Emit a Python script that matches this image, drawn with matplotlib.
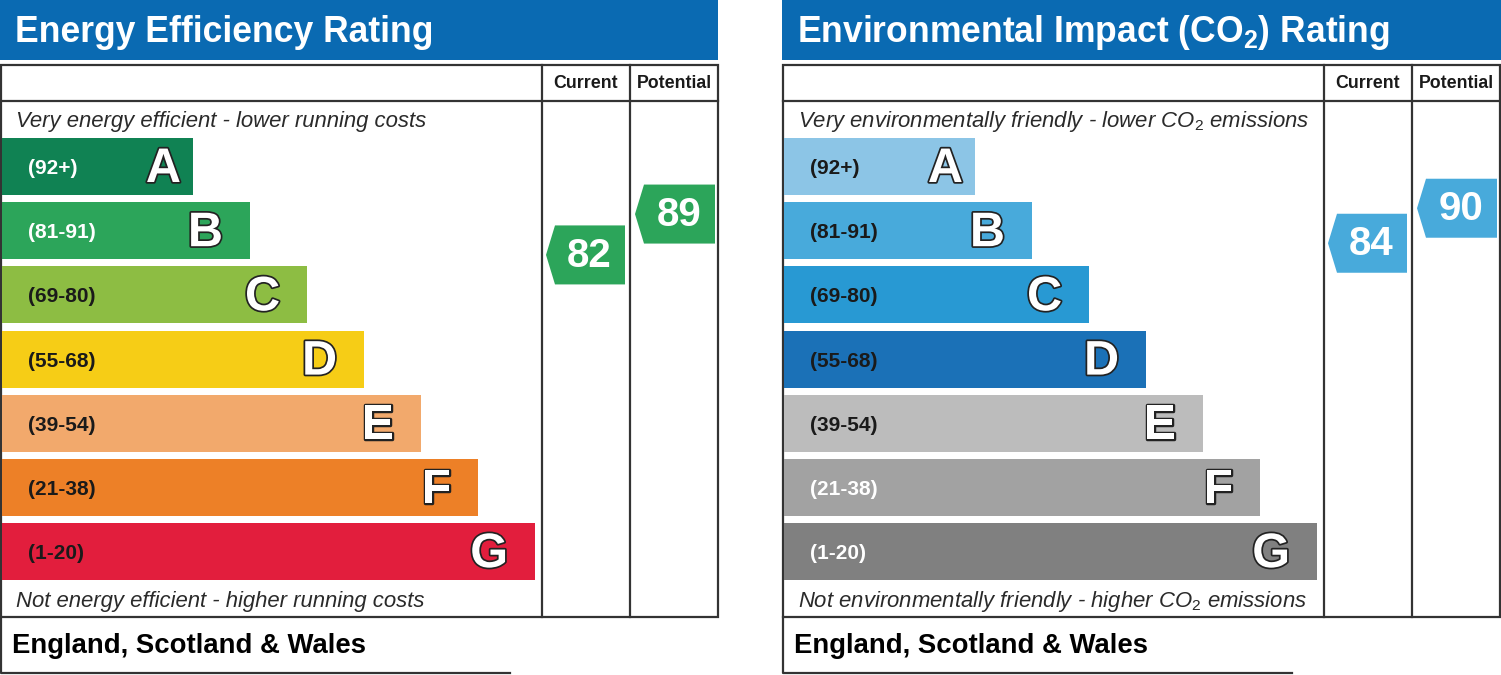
import matplotlib
matplotlib.use("Agg")
import matplotlib.pyplot as plt
from matplotlib.patches import Rectangle, Polygon
import matplotlib.patheffects as pe

plt.rcParams['font.family'] = ['Liberation Sans', 'DejaVu Sans']
plt.rcParams['mathtext.fontset'] = 'custom'
plt.rcParams['mathtext.rm'] = 'Liberation Sans'
plt.rcParams['mathtext.it'] = 'Liberation Sans:italic'
plt.rcParams['mathtext.bf'] = 'Liberation Sans:bold'

# данные рейтингов
bands = ['A', 'B', 'C', 'D', 'E', 'F', 'G']
band_ranges = ['(92+)', '(81-91)', '(69-80)', '(55-68)', '(39-54)', '(21-38)', '(1-20)']
band_lo = [92, 81, 69, 55, 39, 21, 1]
band_hi = [100, 91, 80, 68, 54, 38, 20]

ee_colors = ['#108253', '#2ca55a', '#8dbd43', '#f6cd16', '#f2a96c', '#ed8027', '#e21e3d']
ee_label_colors = ['white', 'white', '#1a1a1a', '#1a1a1a', '#1a1a1a', '#1a1a1a', '#1a1a1a']
ei_colors = ['#8cc5e6', '#48aadb', '#2899d3', '#1b71b7', '#bcbcbc', '#a2a2a2', '#808080']
ei_label_colors = ['#1a1a1a', '#1a1a1a', '#1a1a1a', '#1a1a1a', '#1a1a1a', 'white', 'white']

ee_current, ee_potential = 82, 89
ei_current, ei_potential = 84, 90

ee_title = 'Energy Efficiency Rating'
ei_title = r'Environmental Impact (CO$_\mathbf{2}$) Rating'
ee_top = 'Very energy efficient - lower running costs'
ee_bottom = 'Not energy efficient - higher running costs'
ei_top = r'Very environmentally friendly - lower CO$_\mathit{2}$ emissions'
ei_bottom = r'Not environmentally friendly - higher CO$_\mathit{2}$ emissions'
region = 'England, Scotland & Wales'

fig = plt.figure(figsize=(15.01, 6.75), dpi=100)
ax = fig.add_axes([0, 0, 1, 1])
ax.set_xlim(0, 1501)
ax.set_ylim(675, 0)
ax.axis('off')

line_col = '#333333'
bar_top0 = 138
pitch = 64.2
bar_h = 57


def band_of(v):
    for i in range(len(bands)):
        if band_lo[i] <= v <= band_hi[i]:
            return i
    return len(bands) - 1


def value_y(v):
    # положение стрелки внутри полосы по значению
    i = band_of(v)
    row_bottom = bar_top0 + i * pitch + bar_h + (pitch - bar_h) / 2
    step = pitch / (band_hi[i] - band_lo[i] + 1)
    return row_bottom - (v - band_lo[i] + 0.35) * step


def arrow(x_tip, x_right, v, colors):
    yc = value_y(v)
    h = 59
    pts = [(x_tip, yc), (x_tip + 9, yc - h / 2), (x_right, yc - h / 2),
           (x_right, yc + h / 2), (x_tip + 9, yc + h / 2)]
    ax.add_patch(Polygon(pts, closed=True, facecolor=colors[band_of(v)], edgecolor='none'))
    ax.text((x_tip + x_right) / 2 + 4, yc + 1, str(v), color='white', fontsize=29,
            fontweight='bold', ha='center', va='center')


def panel(x0, width, title, top_txt, bottom_txt, colors, label_colors, cur, pot):
    ax.add_patch(Rectangle((x0, 0), width, 60, facecolor='#0a6ab2', edgecolor='none'))
    ax.text(x0 + 15, 32, title, color='white', fontsize=25.6, fontweight='bold',
            ha='left', va='center')
    # рамка таблицы
    ax.add_patch(Rectangle((x0 + 1, 65), 717, 552, facecolor='none', edgecolor=line_col, lw=1.6))
    ax.plot([x0 + 1, x0 + 718], [101, 101], color=line_col, lw=1.6)
    ax.plot([x0 + 542, x0 + 542], [65, 617], color=line_col, lw=1.6)
    ax.plot([x0 + 630, x0 + 630], [65, 617], color=line_col, lw=1.6)
    ax.plot([x0 + 1, x0 + 1, x0 + 510], [617, 673, 673], color=line_col, lw=1.6)
    ax.text(x0 + 586, 84, 'Current', fontsize=12.8, fontweight='bold', color='#1a1a1a',
            ha='center', va='center')
    ax.text(x0 + 674, 84, 'Potential', fontsize=12.8, fontweight='bold', color='#1a1a1a',
            ha='center', va='center')
    ax.text(x0 + 16, 121, top_txt, fontsize=15.9, style='italic', color='#2a2a2a',
            ha='left', va='center')
    ax.text(x0 + 16, 601, bottom_txt, fontsize=15.9, style='italic', color='#2a2a2a',
            ha='left', va='center')
    for i in range(len(bands)):
        y = bar_top0 + i * pitch
        w = 191 + i * 57
        ax.add_patch(Rectangle((x0 + 2, y), w, bar_h, facecolor=colors[i], edgecolor='none'))
        ax.text(x0 + 28, y + bar_h / 2 + 2, band_ranges[i], fontsize=15, fontweight='bold',
                color=label_colors[i], ha='left', va='center')
        gap = 12 if i == 0 else 27  # буква A стоит ближе к краю
        t = ax.text(x0 + 2 + w - gap, y + bar_h / 2 + 3, bands[i], fontsize=35, fontweight='bold',
                    color='white', ha='right', va='center')
        t.set_path_effects([pe.withStroke(linewidth=2.5, foreground='#222222')])
    arrow(x0 + 546, x0 + 625, cur, colors)
    arrow(x0 + 635, x0 + 715, pot, colors)
    ax.text(x0 + 12, 646, region, fontsize=19.8, fontweight='bold', color='black',
            ha='left', va='center')


panel(0, 718, ee_title, ee_top, ee_bottom, ee_colors, ee_label_colors, ee_current, ee_potential)
panel(782, 719, ei_title, ei_top, ei_bottom, ei_colors, ei_label_colors, ei_current, ei_potential)

fig.savefig('out.png', dpi=100, facecolor='white')
